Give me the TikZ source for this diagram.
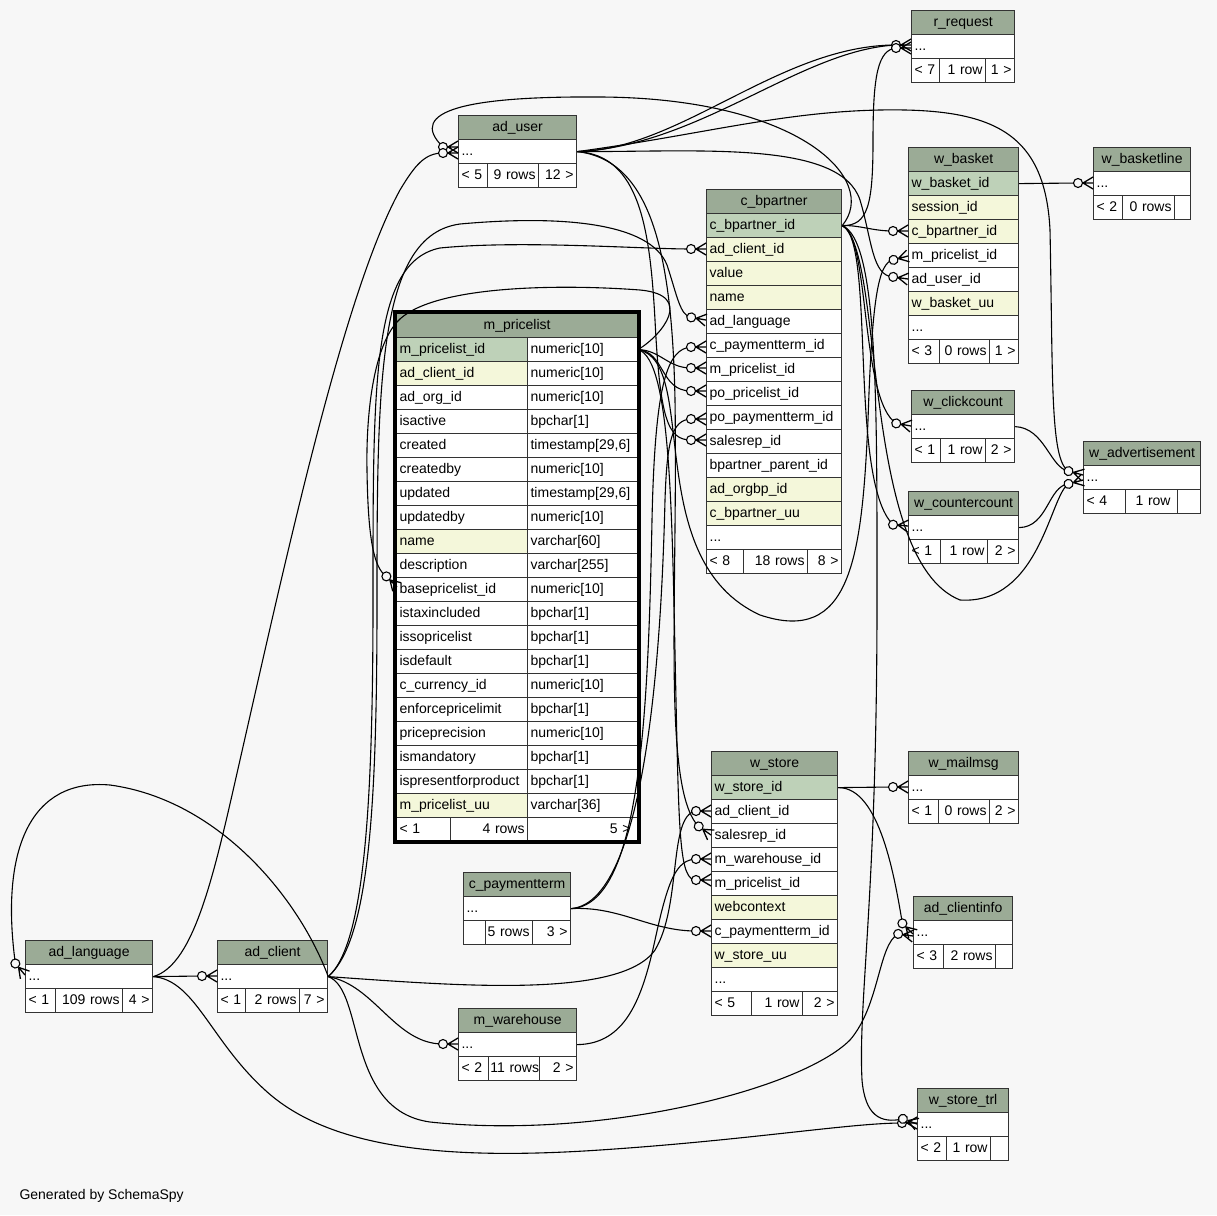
\documentclass[tikz,border=0pt]{standalone}
\usepackage{fontspec}
\setmainfont{Liberation Sans}
\usetikzlibrary{positioning}
\definecolor{bg}{HTML}{F7F7F7}
\definecolor{head}{HTML}{9BAB96}
\definecolor{pkey}{HTML}{BED1B8}
\definecolor{indexed}{HTML}{F4F7DA}
\definecolor{rule}{HTML}{333333}
\newcommand{\tabfont}{\fontsize{14}{16}\selectfont}
\tikzset{
  colcell/.style = {draw=rule, line width=1.2pt, anchor=north west, inner xsep=3pt, inner ysep=0pt,
                    minimum height=24pt, font=\tabfont, text height=10.5pt, text depth=3pt},
  fkline/.style  = {draw=black, line width=1.1pt},
}
% one cell: name, x, y, width, fill, align, text
\newcommand{\tabcell}[7]{%
  \pgfmathsetmacro{\cellw}{#4-6}%
  \node[colcell, fill=#5, text width=\cellw pt, align=#6] (#1) at (#2,#3) {\mbox{#7}};}
\newcommand{\tabhead}[5]{\tabcell{#1}{#2}{#3}{#4}{head}{center}{#5}}
\newcommand{\tabrow}[6]{\tabcell{#1}{#2}{#3}{#4}{#5}{left}{#6}}
% footer: prefix, x, y, w1, w2, w3, parents, rows, children
\newcommand{\tabfoot}[9]{%
  \pgfmathsetmacro{\fxb}{#2+#4}\pgfmathsetmacro{\fxc}{#2+#4+#5}%
  \tabcell{#1-f1}{#2}{#3}{#4}{white}{left}{\rlap{#7}}%
  \tabcell{#1-f2}{\fxb}{#3}{#5}{white}{right}{\llap{#8}}%
  \tabcell{#1-f3}{\fxc}{#3}{#6}{white}{right}{\llap{#9}}}
% crow's foot ends: name/x/y/angle (x,y = point on the table edge)
\def\fklist{rr1/911/45/0, rr2/911/48/0, au1/458/147/0, au2/458/153/0, wbl/1093/183/0,
  wbcb/908/231/0, wbml/908/256/15, wbau/908/279/-8,
  cbpac/706/249/0, cbplang/706/320/-10, cbpcpt/706/347/0, cbpml/706/368/0,
  cbpppl/706/391/0, cbpppt/706/419/0, cbpsr/706/440/0, mplbase/397/587/-45,
  wclk1/911/426/-10, wadv1/1083/475/-15, wadv2/1083/480/15, wcnt1/908/526/-5,
  wmail1/908/787/0, wstac/711/811/0, wstsr/711/835/-35, wstmw/711/859/0,
  wstml/711/880/0, wstcpt/711/931/0, aci1/913/934/-45, aci2/913/936/-8,
  alangfk/25/975/-50, aclfk/217/976/0, mwhfk/458/1044/0, wstrl1/917/1123/0, wstrl2/917/1124/-20}
\begin{document}
\begin{tikzpicture}[x=1pt, y=-1pt]
\fill[bg] (0,0) rectangle (1217,1215);
\useasboundingbox (0,0) rectangle (1217,1215);
\foreach \n/\x/\y/\a in \fklist {\path[shift={(\x,\y)}, rotate=\a] (-15,0) coordinate (\n);}

% r_request
\tabhead{rreq}{911}{10}{103}{r\_request}
\tabrow{rreq-d}{911}{34}{103}{white}{...}
\tabfoot{rreq}{911}{58}{28}{46}{29}{< 7}{1 row}{1 >}
% ad_user
\tabhead{auser}{458}{115}{118}{ad\_user}
\tabrow{auser-d}{458}{139}{118}{white}{...}
\tabfoot{auser}{458}{163}{29}{51}{38}{< 5}{9 rows}{12 >}
% w_basket
\tabhead{wbask}{908}{147}{110}{w\_basket}
\tabrow{wbask-0}{908}{171}{110}{pkey}{w\_basket\_id}
\tabrow{wbask-1}{908}{195}{110}{indexed}{session\_id}
\tabrow{wbask-2}{908}{219}{110}{indexed}{c\_bpartner\_id}
\tabrow{wbask-3}{908}{243}{110}{white}{m\_pricelist\_id}
\tabrow{wbask-4}{908}{267}{110}{white}{ad\_user\_id}
\tabrow{wbask-5}{908}{291}{110}{indexed}{w\_basket\_uu}
\tabrow{wbask-d}{908}{315}{110}{white}{...}
\tabfoot{wbask}{908}{339}{31}{50}{29}{< 3}{0 rows}{1 >}
% w_basketline
\tabhead{wbline}{1093}{147}{97}{w\_basketline}
\tabrow{wbline-d}{1093}{171}{97}{white}{...}
\tabfoot{wbline}{1093}{195}{29}{52}{16}{< 2}{0 rows}{}
% c_bpartner
\tabhead{cbp}{706}{189}{135}{c\_bpartner}
\foreach \cn/\cf [count=\i from 0] in {c\_bpartner\_id/pkey, ad\_client\_id/indexed, value/indexed,
    name/indexed, ad\_language/white, c\_paymentterm\_id/white, m\_pricelist\_id/white,
    po\_pricelist\_id/white, po\_paymentterm\_id/white, salesrep\_id/white,
    bpartner\_parent\_id/white, ad\_orgbp\_id/indexed, c\_bpartner\_uu/indexed}
  {\pgfmathsetmacro{\ry}{213+24*\i}\tabrow{cbp-\i}{706}{\ry}{135}{\cf}{\cn}}
\tabrow{cbp-d}{706}{525}{135}{white}{...}
\tabfoot{cbp}{706}{549}{37}{64}{34}{< 8}{18 rows}{8 >}
% m_pricelist
\tabhead{mpl}{396}{313}{241}{m\_pricelist}
\foreach \cn/\cf/\ct [count=\i from 0] in {m\_pricelist\_id/pkey/numeric[10], ad\_client\_id/indexed/numeric[10],
    ad\_org\_id/white/numeric[10], isactive/white/bpchar[1], created/white/{timestamp[29,6]},
    createdby/white/numeric[10], updated/white/{timestamp[29,6]}, updatedby/white/numeric[10],
    name/indexed/varchar[60], description/white/varchar[255], basepricelist\_id/white/numeric[10],
    istaxincluded/white/bpchar[1], issopricelist/white/bpchar[1], isdefault/white/bpchar[1],
    c\_currency\_id/white/numeric[10], enforcepricelimit/white/bpchar[1],
    priceprecision/white/numeric[10], ismandatory/white/bpchar[1],
    ispresentforproduct/white/bpchar[1], m\_pricelist\_uu/indexed/varchar[36]}
  {\pgfmathsetmacro{\ry}{337+24*\i}
   \tabrow{mpl-n\i}{396}{\ry}{131}{\cf}{\cn}
   \tabrow{mpl-t\i}{527}{\ry}{110}{white}{\ct}}
\tabfoot{mpl}{396}{817}{54}{77}{110}{< 1}{4 rows}{5 >\hspace{4pt}}
\draw[line width=3.5pt, black] (395,312) rectangle (639,842);
% w_clickcount
\tabhead{wclk}{911}{390}{103}{w\_clickcount}
\tabrow{wclk-d}{911}{414}{103}{white}{...}
\tabfoot{wclk}{911}{438}{29}{45}{29}{< 1}{1 row}{2 >}
% w_advertisement
\tabhead{wadv}{1083}{441}{117}{w\_advertisement}
\tabrow{wadv-d}{1083}{465}{117}{white}{...}
\tabfoot{wadv}{1083}{489}{42}{52}{23}{< 4}{1 row\hspace{4pt}}{}
% w_countercount
\tabhead{wcnt}{908}{491}{110}{w\_countercount}
\tabrow{wcnt-d}{908}{515}{110}{white}{...}
\tabfoot{wcnt}{908}{539}{32}{47}{31}{< 1}{1 row}{2 >}
% w_store
\tabhead{wst}{711}{751}{126}{w\_store}
\foreach \cn/\cf [count=\i from 0] in {w\_store\_id/pkey, ad\_client\_id/white, salesrep\_id/white,
    m\_warehouse\_id/white, m\_pricelist\_id/white, webcontext/indexed,
    c\_paymentterm\_id/white, w\_store\_uu/indexed}
  {\pgfmathsetmacro{\ry}{775+24*\i}\tabrow{wst-\i}{711}{\ry}{126}{\cf}{\cn}}
\tabrow{wst-d}{711}{967}{126}{white}{...}
\tabfoot{wst}{711}{991}{40}{51}{35}{< 5}{1 row}{2 >}
% w_mailmsg
\tabhead{wmail}{908}{751}{110}{w\_mailmsg}
\tabrow{wmail-d}{908}{775}{110}{white}{...}
\tabfoot{wmail}{908}{799}{30}{51}{29}{< 1}{0 rows}{2 >}
% ad_clientinfo
\tabhead{aci}{913}{896}{99}{ad\_clientinfo}
\tabrow{aci-d}{913}{920}{99}{white}{...}
\tabfoot{aci}{913}{944}{30}{52}{17}{< 3}{2 rows}{}
% c_paymentterm
\tabhead{cpt}{463}{872}{107}{c\_paymentterm}
\tabrow{cpt-d}{463}{896}{107}{white}{...}
\tabfoot{cpt}{463}{920}{22}{47}{38}{}{5 rows}{3 >}
% ad_language
\tabhead{alang}{25}{940}{127}{ad\_language}
\tabrow{alang-d}{25}{964}{127}{white}{...}
\tabfoot{alang}{25}{988}{30}{67}{30}{< 1}{109 rows}{4 >}
% ad_client
\tabhead{acl}{217}{940}{110}{ad\_client}
\tabrow{acl-d}{217}{964}{110}{white}{...}
\tabfoot{acl}{217}{988}{28}{54}{28}{< 1}{2 rows}{7 >}
% m_warehouse
\tabhead{mwh}{458}{1008}{118}{m\_warehouse}
\tabrow{mwh-d}{458}{1032}{118}{white}{...}
\tabfoot{mwh}{458}{1056}{30}{51}{37}{< 2}{11 rows\hspace{-2.5pt}}{2 >}
% w_store_trl
\tabhead{wstrl}{917}{1088}{91}{w\_store\_trl}
\tabrow{wstrl-d}{917}{1112}{91}{white}{...}
\tabfoot{wstrl}{917}{1136}{29}{44}{18}{< 2}{1 row}{}

\node[anchor=base west, font=\tabfont] (credit) at (16,1199) {Generated by SchemaSpy};

% relationships: ad_user
\draw[fkline] (auser-d.east) .. controls (680,150) and (780,45) .. (rr1);
\draw[fkline] (auser-d.east) .. controls (700,146) and (800,50) .. (rr1);
\draw[fkline] (auser-d.east) .. controls (700,135) and (780,112) .. (880,110) .. controls (990,108) and (1045,130) .. (1050,230) .. controls (1053,380) and (1050,460) .. (wadv1);
\draw[fkline] (auser-d.east) .. controls (700,152) and (840,140) .. (860,200) .. controls (872,240) and (872,276) .. (wbau);
\draw[fkline] (auser-d.east) .. controls (640,155) and (650,230) .. (655,320) .. controls (660,420) and (668,440) .. (cbpsr);
\draw[fkline] (auser-d.east) .. controls (650,160) and (672,250) .. (675,400) .. controls (678,600) and (662,790) .. (wstsr);
% c_bpartner
\draw[fkline] (cbp-0.east) .. controls (880,180) and (800,98) .. (600,97) .. controls (470,96) and (405,110) .. (au1);
\draw[fkline] (cbp-0.east) .. controls (868,226) and (873,205) .. (873,140) .. controls (873,75) and (878,50) .. (rr2);
\draw[fkline] (cbp-0.east) .. controls (860,225) and (872,231) .. (wbcb);
\draw[fkline] (cbp-0.east) .. controls (870,235) and (860,400) .. (wclk1);
\draw[fkline] (cbp-0.east) .. controls (876,240) and (848,480) .. (wcnt1);
\draw[fkline] (cbp-0.east) .. controls (885,250) and (860,560) .. (960,600) .. controls (1040,605) and (1050,495) .. (wadv2);
\draw[fkline] (cbp-0.east) .. controls (878,240) and (877,400) .. (877,600) .. controls (877,900) and (858,1000) .. (862,1080) .. controls (865,1115) and (880,1124) .. (wstrl2);
% m_pricelist
\draw[fkline] (mpl-t0.east) .. controls (662,335) and (695,295) .. (640,290) .. controls (560,284) and (430,285) .. (397,322) .. controls (372,350) and (366,420) .. (367,470) .. controls (368,540) and (374,568) .. (mplbase);
\draw[fkline] (mpl-t0.east) .. controls (660,350) and (668,368) .. (cbpml);
\draw[fkline] (mpl-t0.east) .. controls (665,352) and (660,391) .. (cbpppl);
\draw[fkline] (mpl-t0.east) .. controls (672,360) and (672,520) .. (676,700) .. controls (679,840) and (680,880) .. (wstml);
\draw[fkline] (mpl-t0.east) .. controls (700,362) and (640,560) .. (760,615) .. controls (850,645) and (862,560) .. (868,420) .. controls (872,300) and (878,262) .. (wbml);
% c_paymentterm
\draw[fkline] (cpt-d.east) .. controls (640,905) and (648,720) .. (652,520) .. controls (655,380) and (668,349) .. (cbpcpt);
\draw[fkline] (cpt-d.east) .. controls (650,902) and (662,620) .. (665,500) .. controls (667,440) and (672,420) .. (cbpppt);
\draw[fkline] (cpt-d.east) .. controls (620,906) and (650,931) .. (wstcpt);
% ad_client
\draw[fkline] (acl-d.east) .. controls (300,900) and (220,800) .. (110,785) .. controls (30,778) and (0,850) .. (alangfk);
\draw[fkline] (acl-d.east) .. controls (365,945) and (373,800) .. (373,600) .. controls (373,380) and (372,262) .. (440,248) .. controls (520,240) and (640,249) .. (cbpac);
\draw[fkline] (acl-d.east) .. controls (370,940) and (377,800) .. (377,600) .. controls (377,380) and (378,235) .. (460,224) .. controls (560,215) and (650,222) .. (667,265) .. controls (677,295) and (680,316) .. (cbplang);
\draw[fkline] (acl-d.east) .. controls (450,985) and (620,1000) .. (655,950) .. controls (682,905) and (668,815) .. (wstac);
\draw[fkline] (acl-d.east) .. controls (375,985) and (395,1044) .. (mwhfk);
\draw[fkline] (acl-d.east) .. controls (365,990) and (345,1110) .. (430,1122) .. controls (600,1140) and (800,1090) .. (850,1040) .. controls (880,1005) and (878,945) .. (aci2);
% ad_language
\draw[fkline] (alang-d.east) -- (aclfk);
\draw[fkline] (alang-d.east) .. controls (195,965) and (215,870) .. (240,760) .. controls (290,540) and (345,290) .. (400,190) .. controls (415,165) and (425,153) .. (au2);
\draw[fkline] (alang-d.east) .. controls (195,980) and (210,1040) .. (265,1090) .. controls (330,1150) and (450,1160) .. (600,1150) .. controls (750,1140) and (850,1123) .. (wstrl1);
% w_store, w_basket, counters, m_warehouse
\draw[fkline] (wst-0.east) -- (wmail1);
\draw[fkline] (wst-0.east) .. controls (880,787) and (895,880) .. (aci1);
\draw[fkline] (wbask-0.east) -- (wbl);
\draw[fkline] (wclk-d.east) .. controls (1045,428) and (1050,468) .. (wadv1);
\draw[fkline] (wcnt-d.east) .. controls (1048,527) and (1048,486) .. (wadv2);
\draw[fkline] (mwh-d.east) .. controls (625,1044) and (642,1000) .. (655,940) .. controls (668,880) and (676,860) .. (wstmw);

% zero-or-many ends
\foreach \n/\x/\y/\a in \fklist {
  \begin{scope}[shift={(\x,\y)}, rotate=\a]
    \draw[fkline, line width=1.3pt] (-10,0) -- (0,-6) (-10,0) -- (0,0) (-10,0) -- (0,6);
    \draw[fkline, fill=bg] (-15,0) circle[radius=4.5];
  \end{scope}
}
\end{tikzpicture}
\end{document}
